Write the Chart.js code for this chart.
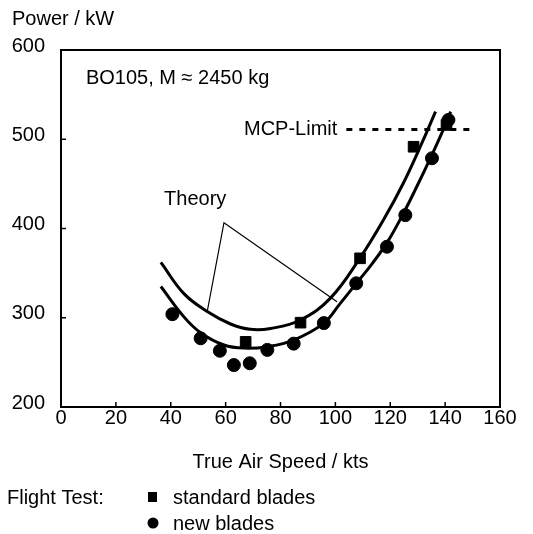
<!DOCTYPE html>
<html>
<head>
<meta charset="utf-8">
<script src="https://cdn.jsdelivr.net/npm/chart.js@4.4.1/dist/chart.umd.min.js"></script>
<style>
  html, body { margin: 0; padding: 0; background: #fff; }
</style>
</head>
<body>
<canvas id="powerChart" width="533" height="534"></canvas>
<script>
// axis ticks
const speedTicks = [0, 20, 40, 60, 80, 100, 120, 140, 160];
const powerTicks = [200, 300, 400, 500, 600];

// flight test points (kts, kW)
const standardSpeed = [67.3, 87.3, 109, 128.5, 140.5];
const standardPower = [273, 294.5, 366.6, 491.6, 516];
const newSpeed = [40.6, 50.9, 57.9, 63, 68.8, 75.2, 84.8, 95.8, 107.6, 118.8, 125.5, 135.2, 141.2];
const newPower = [304, 277, 263, 247, 249, 264, 271, 294, 338.6, 379.6, 415, 478.7, 521.6];

// theory curves
const theoryUpperSpeed = [36.4, 44.8, 53.3, 61.8, 69, 76.4, 87.3, 98.2, 109, 117.6, 124.8, 132, 136.5];
const theoryUpperPower = [362, 327, 307, 293, 287, 288, 297.5, 322, 367, 410, 451, 499, 531];
const theoryLowerSpeed = [36.4, 44.8, 51, 59.4, 66.7, 75.2, 84.8, 95.8, 101.5, 107.5, 113.5, 119, 124.8, 130, 134.5, 139.5, 142];
const theoryLowerPower = [335, 301, 283, 269.5, 266, 267.6, 275, 294, 315, 338, 361, 385, 417, 449, 478, 512, 531];

// leader lines from the "Theory" label, MCP limit
const leaderSpeed = [53.3, 59.4, 100.6];
const leaderPower = [307, 406.5, 318];
const mcpSpeed = [104, 150];
const mcpPower = [511, 511];

const pts = (xs, ys) => xs.map((x, i) => ({ x: x, y: ys[i] }));

const FONT = '"Liberation Sans", Arial, Helvetica, sans-serif';

const framePlugin = {
  id: 'frame',
  beforeDatasetsDraw(chart) {
    const { ctx, chartArea: a, scales } = chart;
    ctx.save();
    ctx.strokeStyle = '#000';
    ctx.lineWidth = 2;
    ctx.strokeRect(a.left, a.top, a.right - a.left, a.bottom - a.top);
    ctx.lineWidth = 1.5;
    // inward tick marks
    speedTicks.slice(1, -1).forEach(v => {
      const x = scales.x.getPixelForValue(v);
      ctx.beginPath(); ctx.moveTo(x, a.bottom); ctx.lineTo(x, a.bottom - 5); ctx.stroke();
    });
    powerTicks.slice(1, -1).forEach(v => {
      const y = scales.y.getPixelForValue(v);
      ctx.beginPath(); ctx.moveTo(a.left, y); ctx.lineTo(a.left + 5, y); ctx.stroke();
    });
    ctx.restore();
  },
  afterDraw(chart) {
    const { ctx, scales } = chart;
    const px = v => scales.x.getPixelForValue(v);
    const py = v => scales.y.getPixelForValue(v);
    ctx.save();
    ctx.fillStyle = '#000';
    ctx.font = '20px ' + FONT;
    ctx.textBaseline = 'middle';
    ctx.textAlign = 'left';
    ctx.fillText('Power / kW', 12, 19);
    ctx.fillText('BO105, M \u2248 2450 kg', px(9.1), py(568.6));
    ctx.textAlign = 'center';
    ctx.fillText('Theory', px(48.9), py(432));
    ctx.textAlign = 'right';
    ctx.fillText('MCP-Limit', px(100.7), py(511));

    // legend
    ctx.textAlign = 'left';
    ctx.fillText('Flight Test:', 7, 498);
    ctx.fillText('standard blades', 173, 498);
    ctx.fillText('new blades', 173, 524);
    ctx.fillRect(148, 492, 9, 10);
    ctx.beginPath(); ctx.arc(153, 523, 5.5, 0, Math.PI * 2); ctx.fill();
    ctx.restore();
  }
};

const ctx = document.getElementById('powerChart').getContext('2d');

new Chart(ctx, {
  type: 'scatter',
  data: {
    datasets: [
      {
        label: 'Theory (upper)',
        type: 'line',
        data: pts(theoryUpperSpeed, theoryUpperPower),
        borderColor: '#000',
        borderWidth: 3,
        pointRadius: 0,
        tension: 0.4,
        fill: false
      },
      {
        label: 'Theory (lower)',
        type: 'line',
        data: pts(theoryLowerSpeed, theoryLowerPower),
        borderColor: '#000',
        borderWidth: 3,
        pointRadius: 0,
        tension: 0.4,
        fill: false
      },
      {
        label: 'leader',
        type: 'line',
        data: pts(leaderSpeed, leaderPower),
        borderColor: '#000',
        borderWidth: 1.2,
        pointRadius: 0,
        tension: 0,
        fill: false
      },
      {
        label: 'MCP-Limit',
        type: 'line',
        data: pts(mcpSpeed, mcpPower),
        borderColor: '#000',
        borderWidth: 3,
        borderDash: [6, 7],
        pointRadius: 0,
        fill: false
      },
      {
        label: 'standard blades',
        data: pts(standardSpeed, standardPower),
        pointStyle: 'rect',
        pointRadius: 7.5,
        backgroundColor: '#000',
        borderColor: '#000'
      },
      {
        label: 'new blades',
        data: pts(newSpeed, newPower),
        pointStyle: 'circle',
        pointRadius: 6.5,
        backgroundColor: '#000',
        borderColor: '#000'
      }
    ]
  },
  options: {
    responsive: false,
    animation: false,
    layout: { padding: { top: 50, right: 33, left: 0, bottom: 57 } },
    plugins: {
      legend: { display: false },
      tooltip: { enabled: false }
    },
    scales: {
      x: {
        type: 'linear',
        min: 0,
        max: 160,
        afterFit: s => { s.height = 70; },
        afterBuildTicks: s => { s.ticks = speedTicks.map(v => ({ value: v })); },
        grid: { display: false, drawTicks: false },
        border: { display: false },
        ticks: { color: '#000', font: { size: 20, family: FONT }, padding: -1, maxRotation: 0 },
        title: {
          display: true,
          text: 'True Air Speed / kts',
          color: '#000',
          font: { size: 20, family: FONT },
          padding: { top: 0, bottom: 3 }
        }
      },
      y: {
        type: 'linear',
        min: 200,
        max: 600,
        afterFit: s => { s.width = 61; },
        afterBuildTicks: s => { s.ticks = powerTicks.map(v => ({ value: v })); },
        grid: { display: false, drawTicks: false },
        border: { display: false },
        ticks: { color: '#000', font: { size: 20, family: FONT }, padding: 16, labelOffset: -4 }
      }
    }
  },
  plugins: [framePlugin]
});
</script>
</body>
</html>
